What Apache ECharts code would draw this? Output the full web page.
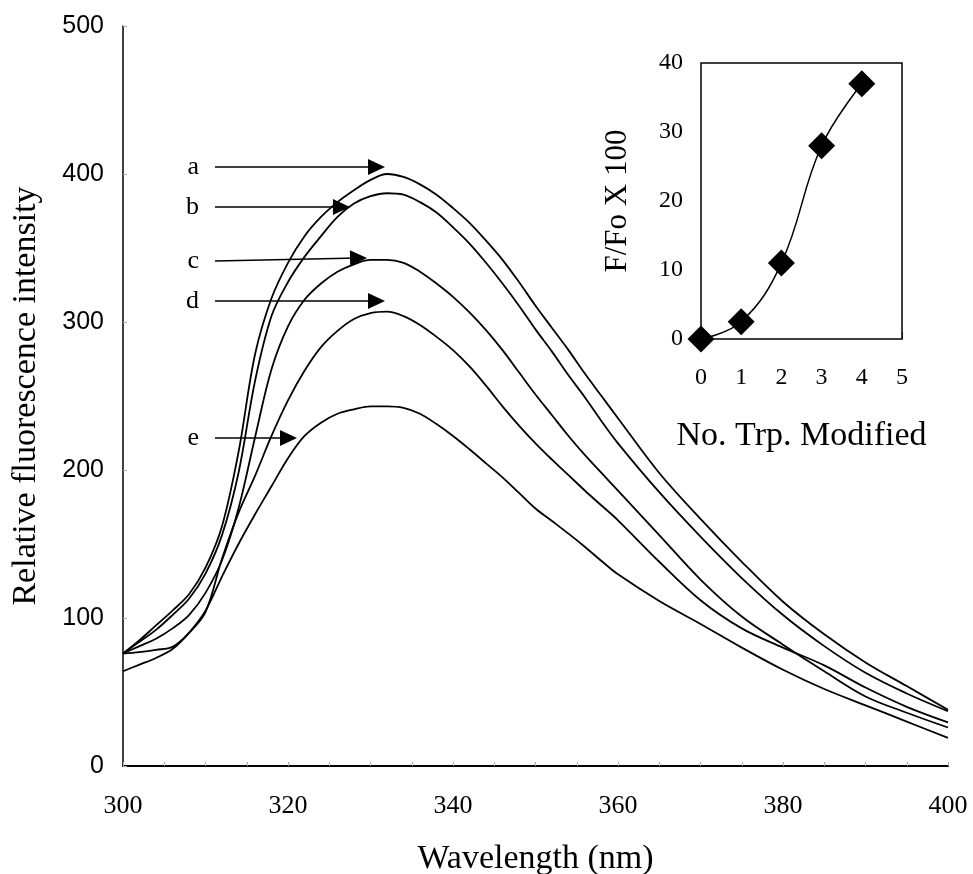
<!DOCTYPE html>
<html>
<head>
<meta charset="utf-8">
<script src="https://cdn.jsdelivr.net/npm/echarts@6/dist/echarts.min.js"></script>
<style>
  html, body { margin: 0; padding: 0; background: #fff; }
  #main { width: 973px; height: 874px; }
</style>
</head>
<body>
<div id="main"></div>
<script>
// wavelength grid (nm)
var wavelength = [300, 302, 304, 306, 308, 310, 312, 314, 316, 318, 320, 322, 324, 326, 328, 330, 332, 334, 336, 338,
  340, 342, 344, 346, 348, 350, 352, 354, 356, 358, 360, 365, 370, 375, 380, 385, 390, 395, 400];

// relative fluorescence intensity, curves a..e
var curveA = [76, 85, 95, 105, 116, 134, 162, 212, 278, 316, 340, 358, 371, 381, 389, 396, 400, 398, 393, 386,
  377, 367, 355, 342, 327, 311, 296, 281, 265, 250, 235, 198, 167, 138, 111, 89, 70, 54, 38];
var curveB = [76, 84, 92, 102, 113, 130, 156, 198, 260, 304, 327, 344, 358, 371, 380, 385, 387, 386, 381, 374,
  364, 353, 340, 326, 311, 295, 280, 264, 249, 233, 218, 185, 155, 127, 102, 81, 63, 49, 37];
var curveC = [76, 81, 86, 93, 102, 117, 139, 174, 222, 268, 297, 315, 326, 334, 339, 342, 342, 340, 334, 326,
  317, 306.5, 294.5, 281, 266, 251, 237, 223, 210, 198, 186, 156, 126, 101, 82, 64, 47, 36, 26];
var curveD = [76, 77, 78.5, 80.5, 90, 104, 140, 171, 196, 223, 247, 267, 283, 294, 302, 306, 307, 304, 298, 290,
  281, 270, 257, 243, 230, 218, 207, 196.5, 186, 176, 166, 138, 112, 93, 80, 68, 53, 40, 29.5];
var curveE = [64, 68.5, 73, 79, 90, 105, 128, 150, 170, 189, 208, 223, 232, 238, 241, 243, 243, 242, 238, 231,
  223, 214, 204.5, 195, 184.5, 174, 165.5, 157, 148, 138.5, 129.5, 111.5, 96, 80, 65, 52, 41, 30, 19];

// arrow labels: start / end points in data units
var arrowNames = ['a', 'b', 'c', 'd', 'e'];
var arrowStartX = [311.15, 311.15, 311.15, 311.15, 311.15];
var arrowStartY = [404.7, 377.7, 341.2, 314.2, 221.6];
var arrowEndX = [330.73, 326.48, 328.55, 330.73, 320.06];
var arrowEndY = [404.7, 377.7, 343.2, 314.2, 221.6];

// inset
var trpModified = [0, 1, 2, 3, 4];
var ffoRatio = [0, 2.5, 11, 28, 37];

var serif = 'Liberation Serif';
var sans = 'Liberation Sans';

function pairs(xs, ys) {
  var out = [];
  for (var i = 0; i < xs.length; i++) out.push([xs[i], ys[i]]);
  return out;
}

var arrowData = [];
for (var i = 0; i < arrowNames.length; i++) {
  arrowData.push([
    { name: arrowNames[i], coord: [arrowStartX[i], arrowStartY[i]] },
    { coord: [arrowEndX[i], arrowEndY[i]] }
  ]);
}

var curves = [curveA, curveB, curveC, curveD, curveE];
var series = [];
for (var k = 0; k < curves.length; k++) {
  series.push({
    name: arrowNames[k],
    type: 'line',
    xAxisIndex: 0,
    yAxisIndex: 0,
    data: pairs(wavelength, curves[k]),
    smooth: 0.35,
    showSymbol: false,
    symbol: 'none',
    silent: true,
    lineStyle: { color: '#000', width: 1.8 }
  });
}

// arrows + letters
series[0].markLine = {
  silent: true,
  symbol: ['none', 'triangle'],
  symbolSize: [16, 17],
  lineStyle: { color: '#000', width: 1.5, type: 'solid' },
  label: {
    show: true,
    position: 'start',
    distance: 16,
    formatter: '{b}',
    color: '#000',
    fontFamily: serif,
    fontSize: 26
  },
  emphasis: { disabled: true },
  data: arrowData
};

// inset series
series.push({
  type: 'line',
  xAxisIndex: 1,
  yAxisIndex: 1,
  data: pairs(trpModified, ffoRatio),
  smooth: 0.4,
  symbol: 'diamond',
  symbolSize: 27,
  clip: false,
  silent: true,
  itemStyle: { color: '#000' },
  lineStyle: { color: '#000', width: 1.5 },
  z: 5
});

var myChart = echarts.init(document.getElementById('main'));

var option = {
  backgroundColor: '#fff',
  animation: false,
  grid: [
    { left: 123, right: 25, top: 26, bottom: 108, outerBoundsMode: 'none', containLabel: false },
    { left: 701, right: 71, top: 63, bottom: 535, outerBoundsMode: 'none', containLabel: false,
      show: true, borderColor: '#000', borderWidth: 1.5, backgroundColor: '#fff', z: 3 }
  ],
  xAxis: [{
    gridIndex: 0,
    type: 'value',
    min: 300,
    max: 400,
    interval: 20,
    name: 'Wavelength (nm)',
    nameLocation: 'middle',
    nameGap: 76,
    nameTextStyle: { fontFamily: serif, fontSize: 34, color: '#000' },
    axisLine: { lineStyle: { color: '#000', width: 2 } },
    axisTick: { show: true, inside: true, length: 4, lineStyle: { color: '#aaa' } },
    minorTick: { show: true, splitNumber: 4, length: 4, lineStyle: { color: '#aaa' } },
    splitLine: { show: false },
    axisLabel: { fontFamily: serif, fontSize: 26, color: '#000', margin: 27 }
  }, {
    gridIndex: 1,
    type: 'value',
    min: 0,
    max: 5,
    interval: 1,
    name: 'No. Trp. Modified',
    nameLocation: 'middle',
    nameGap: 80,
    nameTextStyle: { fontFamily: serif, fontSize: 34, color: '#000' },
    axisLine: { show: false },
    axisTick: { show: true, inside: true, length: 7, lineStyle: { color: '#000', width: 1.5 } },
    splitLine: { show: false },
    axisLabel: { fontFamily: serif, fontSize: 24, color: '#000', margin: 27 }
  }],
  yAxis: [{
    gridIndex: 0,
    type: 'value',
    min: 0,
    max: 500,
    interval: 100,
    name: 'Relative fluorescence intensity',
    nameLocation: 'middle',
    nameGap: 80,
    nameTextStyle: { fontFamily: serif, fontSize: 34, color: '#000' },
    axisLine: { show: true, lineStyle: { color: '#000', width: 1.5 } },
    axisTick: { show: true, inside: true, length: 4, lineStyle: { color: '#aaa' } },
    splitLine: { show: false },
    axisLabel: { fontFamily: sans, fontSize: 25, color: '#000', margin: 19 }
  }, {
    gridIndex: 1,
    type: 'value',
    min: 0,
    max: 40,
    interval: 10,
    name: 'F/Fo X 100',
    nameLocation: 'middle',
    nameGap: 68,
    nameTextStyle: { fontFamily: serif, fontSize: 31, color: '#000' },
    axisLine: { show: false },
    axisTick: { show: true, inside: true, length: 4, lineStyle: { color: '#bbb' } },
    splitLine: { show: false },
    axisLabel: { fontFamily: serif, fontSize: 24, color: '#000', margin: 18 }
  }],
  series: series
};

myChart.setOption(option);
</script>
</body>
</html>
